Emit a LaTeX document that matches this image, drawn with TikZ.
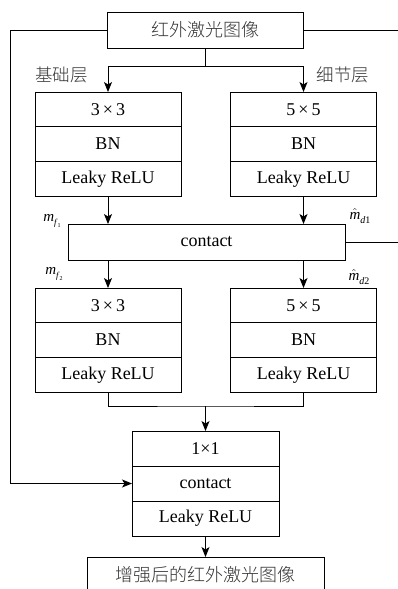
\documentclass[tikz,border=0pt]{standalone}
\usepackage{fontspec}
\setmainfont{Liberation Serif}
\newfontfamily\cjk[UprightFont=* Light]{Noto Sans CJK SC}
\usetikzlibrary{arrows.meta}

% feature symbols set in text italics
\newcommand\featf[1]{\textit{m}\raisebox{-4.5pt}{\fontsize{9}{9}\selectfont\textit{f}\raisebox{-2pt}{\fontsize{6}{6}\selectfont #1}}}
\newcommand\featd[1]{$\hat{\hbox{\itshape m}}$\raisebox{-3.5pt}{\fontsize{10}{10}\selectfont\textit{d}#1}}

\tikzset{
  every node/.style={inner sep=0pt, outer sep=0pt},
  base/.style={line width=0.9pt},
  box/.style={base, draw, font=\fontsize{18}{20}\selectfont},
  rowbox/.style={box, minimum width=146pt, minimum height=34.7pt, anchor=north},
  midrow/.style={box, minimum width=147pt, minimum height=35pt, anchor=north},
  link/.style={base},
  arrow/.style={base, -{Stealth[length=10pt, width=8pt, inset=2.5pt]}},
  cjktext/.style={font=\cjk\fontsize{18}{20}\selectfont, text=black!80},
  layer/.style={font=\cjk\fontsize{17.5}{20}\selectfont, text=black!80},
  sym/.style={font=\fontsize{15}{16}\selectfont}
}

\begin{document}
\begin{tikzpicture}[x=1pt, y=-1pt]
  \useasboundingbox (0,0) rectangle (398,589);

  % input image
  \node[box, minimum width=196pt, minimum height=36pt, cjktext]
    (img) at (205,30) {红外激光图像};

  % branch labels
  \node[layer] (lbase) at (61.5,75) {基础层};
  \node[layer] (ldet)  at (343,75) {细节层};

  % first stage: base branch
  \node[rowbox] (a1) at (108,92) {3\,×\,3};
  \node[rowbox] (a2) at (a1.south) {BN};
  \node[rowbox] (a3) at (a2.south) {Leaky ReLU};
  % first stage: detail branch
  \node[rowbox] (b1) at (303.5,92) {5\,×\,5};
  \node[rowbox] (b2) at (b1.south) {BN};
  \node[rowbox] (b3) at (b2.south) {Leaky ReLU};

  % concatenation
  \node[box, minimum width=277pt, minimum height=36pt] (ct) at (206.5,242) {contact};

  % second stage
  \node[rowbox] (c1) at (108,288) {3\,×\,3};
  \node[rowbox] (c2) at (c1.south) {BN};
  \node[rowbox] (c3) at (c2.south) {Leaky ReLU};
  \node[rowbox] (d1) at (303.5,288) {5\,×\,5};
  \node[rowbox] (d2) at (d1.south) {BN};
  \node[rowbox] (d3) at (d2.south) {Leaky ReLU};

  % fusion block
  \node[midrow] (e1) at (205.5,431) {1×1};
  \node[midrow] (e2) at (e1.south) {contact};
  \node[midrow] (e3) at (e2.south) {Leaky ReLU};

  % output image
  \node[box, minimum width=237pt, minimum height=36pt, cjktext]
    (out) at (205.5,575) {增强后的红外激光图像};

  % feature symbols
  \node[sym] (mf1) at (52,221) {\featf{1}};
  \node[sym] (mf2) at (54,274) {\featf{2}};
  \node[sym] (md1) at (360,216) {\featd{1}};
  \node[sym] (md2) at (359,277) {\featd{2}};

  % helper points
  \coordinate (split) at (205,66);
  \coordinate (merge) at (205.5,406);
  \coordinate (skip) at (10,483.5);
  \coordinate (edge) at (398,30);

  % connectors
  \draw[link] (img.south) -- (split);
  \draw[arrow] (split) -| (a1.north);
  \draw[arrow] (split) -| (b1.north);
  \draw[arrow] (a3.south) -- (a3.south |- ct.north);
  \draw[arrow] (b3.south) -- (b3.south |- ct.north);
  \draw[arrow] (ct.south -| c1.north) -- (c1.north);
  \draw[arrow] (ct.south -| d1.north) -- (d1.north);
  \draw[link] (c3.south) |- (merge) -| (d3.south);
  \draw[arrow] (merge) -- (e1.north);
  \draw[arrow] (e3.south) -- (out.north);
  \draw[arrow] (img.west) -| (skip) -- (e2.west);
  \draw[link] (img.east) -- (img.east -| edge);
  \draw[link] (ct.east) -- (ct.east -| edge);
\end{tikzpicture}
\end{document}
